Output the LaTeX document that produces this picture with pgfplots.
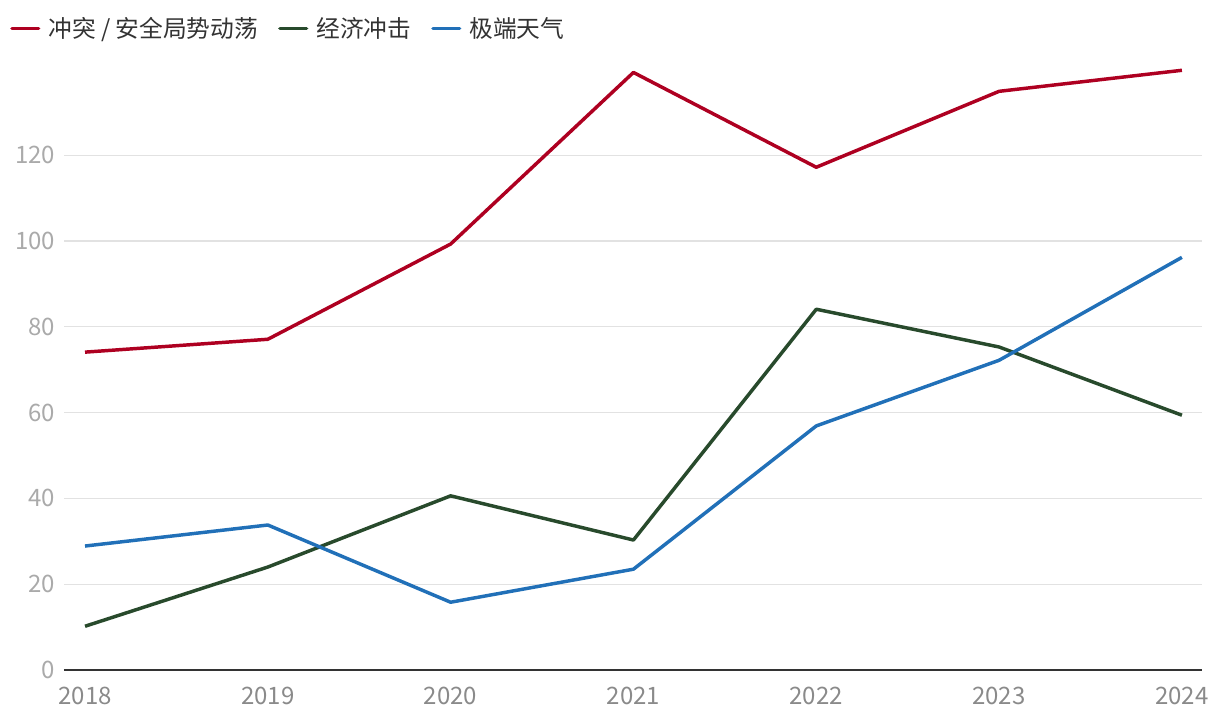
\documentclass[border=0pt]{standalone}
\usepackage{fontspec}
\setmainfont{Noto Sans CJK SC}
\usepackage{pgfplots}
\pgfplotsset{compat=1.18}
\definecolor{cred}{HTML}{AE0021}
\definecolor{cgreen}{HTML}{284A2C}
\definecolor{cblue}{HTML}{2170B8}
\definecolor{gridc}{HTML}{E2E2E2}
\definecolor{ylab}{HTML}{AAAAAA}
\definecolor{xlab}{HTML}{8A8A8A}
\begin{document}
\begin{tikzpicture}[x=1pt,y=1pt]
\useasboundingbox (-48,-39) rectangle (867,502.5);
\begin{axis}[
  scale only axis,
  width=853.5pt, height=466.5pt,
  xmin=2017.885, xmax=2024.11,
  ymin=0, ymax=145,
  axis x line*=bottom,
  axis y line*=left,
  y axis line style={draw=none},
  x axis line style={draw=black!80, line width=1.5pt, -},
  xtick={2018,...,2024},
  xticklabels={2018,2019,2020,2021,2022,2023,2024},
  ytick={0,20,...,120},
  ymajorgrids,
  major grid style={draw=gridc, line width=1pt},
  tick style={draw=none},
  /pgf/number format/assume math mode=true,
  /pgf/number format/1000 sep={},
  xticklabel style={font=\fontsize{18}{20}\selectfont, text=xlab, yshift=-9pt},
  yticklabel style={font=\fontsize{18}{20}\selectfont, text=ylab, anchor=east, xshift=-3pt},
  clip=false,
  legend columns=-1,
  legend style={draw=none, fill=none, at={(-0.051,1.058)}, anchor=north west,
    font=\fontsize{17.8}{20}\selectfont, text=black!80,
    /tikz/every odd column/.append style={column sep=4pt},
    /tikz/every even column/.append style={column sep=13pt}},
  legend image code/.code={\draw[#1, line cap=round] (-1pt,0pt) -- (19pt,0pt);},
]
\addplot[cred, line width=2.6pt, line join=round] coordinates {
(2018,74.1) (2019,77.1) (2020,99.3) (2021,139.3) (2022,117.2) (2023,134.9) (2024,139.8)};
\addlegendentry{冲突 / 安全局势动荡}
\addplot[cgreen, line width=2.6pt, line join=round] coordinates {
(2018,10.2) (2019,24.0) (2020,40.6) (2021,30.3) (2022,84.1) (2023,75.3) (2024,59.4)};
\addlegendentry{经济冲击}
\addplot[cblue, line width=2.6pt, line join=round] coordinates {
(2018,28.9) (2019,33.8) (2020,15.8) (2021,23.5) (2022,56.9) (2023,72.2) (2024,96.2)};
\addlegendentry{极端天气}
\end{axis}
\end{tikzpicture}
\end{document}
